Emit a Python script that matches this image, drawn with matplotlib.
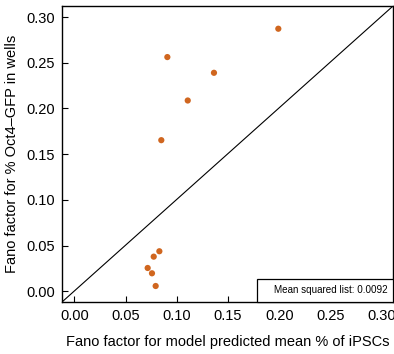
"""Fano factor: model prediction vs observed Oct4-GFP wells."""

import matplotlib
matplotlib.use("Agg")
import matplotlib.pyplot as plt
from matplotlib.patches import Rectangle

plt.rcParams["font.family"] = ["Liberation Sans", "DejaVu Sans"]

# Fano factors
fano_model = [0.0908, 0.1107, 0.0849, 0.1991, 0.1363,
              0.0830, 0.0775, 0.0716, 0.0758, 0.0794]
fano_wells = [0.2562, 0.2087, 0.1653, 0.2872, 0.2390,
              0.0438, 0.0379, 0.0255, 0.0197, 0.0058]
ticks = [0.00, 0.05, 0.10, 0.15, 0.20, 0.25, 0.30]
mse_label = "Mean squared list: 0.0092"

fig = plt.figure(figsize=(3.94, 3.54), dpi=100)
ax = fig.add_axes([0.1574, 0.1469, 0.840, 0.836])

xlim = (-0.012, 0.311)
ylim = (-0.0117, 0.312)
ax.set_xlim(*xlim)
ax.set_ylim(*ylim)

# diagonal, corner to corner
ax.plot([0, 1], [0, 1], transform=ax.transAxes, color="black", lw=0.8)

ax.scatter(fano_model, fano_wells, s=20, color="#d0661f", zorder=3,
           edgecolors="none")

ax.set_xticks(ticks)
ax.set_yticks(ticks)
ax.set_xticklabels([f"{t:.2f}" for t in ticks])
ax.set_yticklabels([f"{t:.2f}" for t in ticks])
ax.tick_params(direction="in", length=4, width=0.8, labelsize=10.5, pad=5)

for sp in ax.spines.values():
    sp.set_linewidth(1.0)

ax.set_xlabel("Fano factor for model predicted mean % of iPSCs",
              fontsize=10.5, labelpad=9)
ax.set_ylabel("Fano factor for % Oct4\u2013GFP in wells",
              fontsize=10.5, labelpad=5)

# MSE box in lower right corner
ax.add_patch(Rectangle((0.589, 0.0), 0.411, 0.079, transform=ax.transAxes,
                       facecolor="white", edgecolor="black", lw=0.9,
                       zorder=4, clip_on=False))
ax.text(0.985, 0.040, mse_label, transform=ax.transAxes, ha="right",
        va="center", fontsize=7.1, zorder=5)

fig.savefig("out.png", dpi=100)
